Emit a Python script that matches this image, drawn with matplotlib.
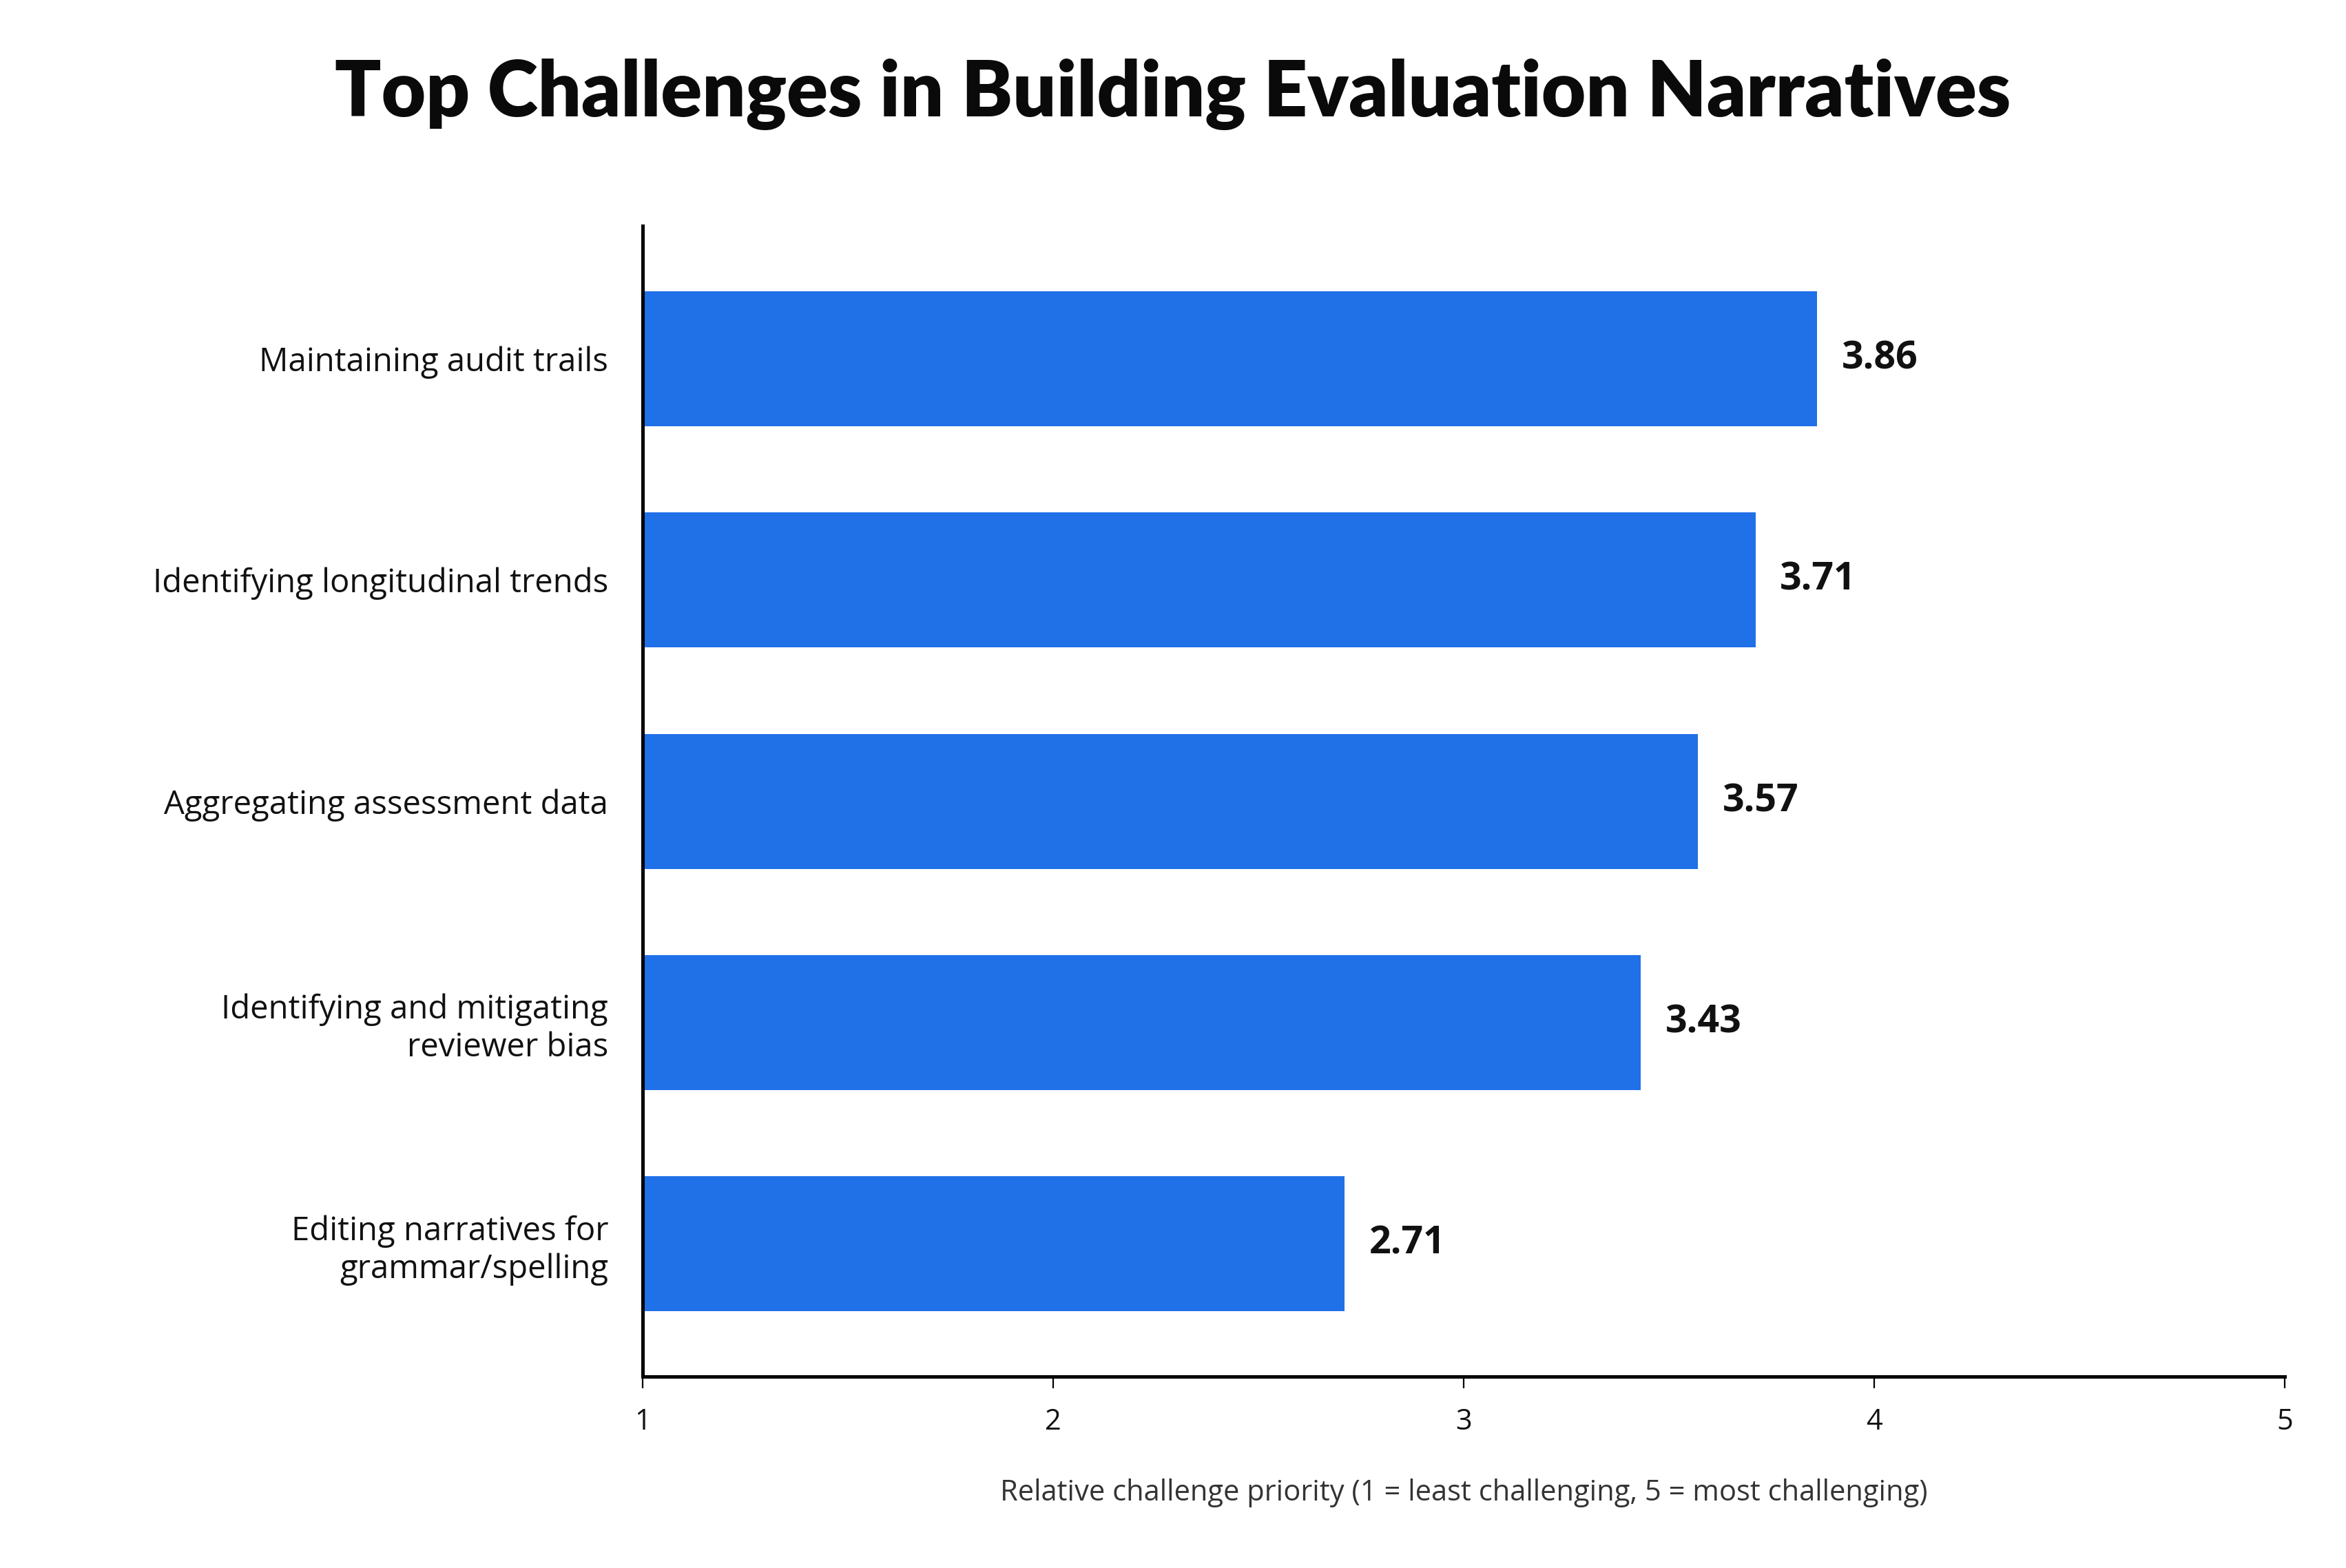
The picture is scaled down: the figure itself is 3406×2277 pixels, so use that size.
import matplotlib
matplotlib.use("Agg")
import matplotlib.pyplot as plt

categories = ["Maintaining audit trails", "Identifying longitudinal trends",
              "Aggregating assessment data", "Identifying and mitigating\nreviewer bias",
              "Editing narratives for\ngrammar/spelling"]
values = [3.86, 3.71, 3.57, 3.43, 2.71]
xticks = [1, 2, 3, 4, 5]

plt.rcParams['font.family'] = ['Open Sans', 'DejaVu Sans']
fig = plt.figure(figsize=(17.03, 11.385), dpi=200)
ax = fig.add_axes([0.274, 0.122, 0.7, 0.734])
y = list(range(len(categories)))
ax.barh(y, [v - 1 for v in values], left=1, height=0.61, color="#2070E8")
for yi, v in zip(y, values):
    ax.text(v + 0.06, yi, f"{v:.2f}", va="center", ha="left", fontsize=20, fontweight="bold", color="#111111")
ax.set_xlim(1, 5)
ax.set_ylim(4.6, -0.6)
ax.set_yticks(y)
ax.set_yticklabels(categories, fontsize=17, color="#111111")
ax.tick_params(axis="y", length=0, pad=18)
ax.set_xticks(xticks)
ax.set_xticklabels([str(t) for t in xticks], fontsize=15, color="#111111")
ax.tick_params(axis="x", length=6, pad=10)
ax.set_xlabel("Relative challenge priority (1 = least challenging, 5 = most challenging)",
              fontsize=15, color="#333333", labelpad=22)
for s in ["top", "right"]:
    ax.spines[s].set_visible(False)
for s in ["left", "bottom"]:
    ax.spines[s].set_linewidth(1.8)
fig.text(0.5, 0.94, "Top Challenges in Building Evaluation Narratives", ha="center", va="center",
         fontsize=40, fontweight="heavy", family=["Lato", "DejaVu Sans"], color="#0a0a0a")
fig.savefig("out.png", dpi=200, facecolor="white")
